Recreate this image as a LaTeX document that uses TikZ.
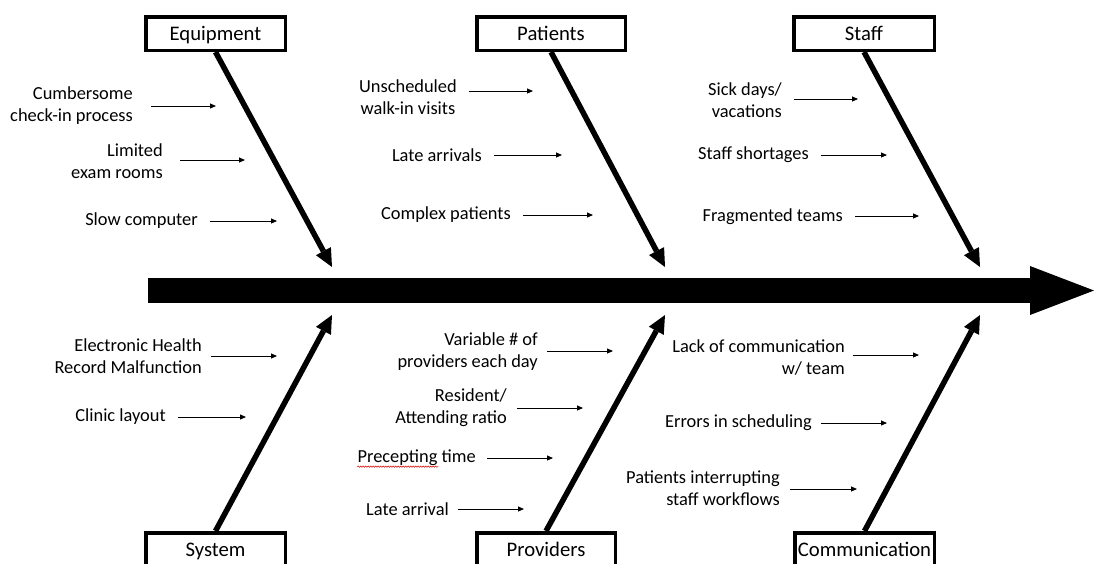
\documentclass[tikz,border=0pt]{standalone}
\usepackage{fontspec}
\setmainfont{Carlito}
\usetikzlibrary{arrows.meta,positioning,decorations.pathmorphing}

\begin{document}
\begin{tikzpicture}[x=1pt,y=-1pt,
		catbox/.style={draw,line width=3.5pt,fill=white,minimum height=33.5pt,inner sep=0pt,text height=13pt,text depth=0pt,font=\fontsize{20.7}{24}\selectfont},
		cause/.style={anchor=east,align=right,inner sep=0pt,font=\fontsize{18.4}{22}\selectfont},
		bone/.style={line width=5.5pt,-{Triangle[length=18pt,width=17pt,line width=0pt]}},
		twig/.style={line width=0.9pt,shorten <=12pt,-{Triangle[length=6pt,width=5pt]}},
		spine/.style={line width=25pt,-{Triangle[length=64pt,width=49pt,line width=0pt]}},
		spell/.style={draw=red!85!black,line width=0.5pt,decorate,decoration={snake,amplitude=0.7pt,segment length=2.5pt}}
		]
		\useasboundingbox (0,0) rectangle (1094,563);
		% main spine
		\coordinate (tail) at (148,290.5);
		\coordinate (head) at (1094,290.5);
		\draw[spine] (tail) -- (head);
		% category boxes
		\node[catbox,minimum width=139.5pt] (equip) at (215.5,33.5) {Equipment};
		\node[catbox,minimum width=148.5pt] (pat) at (551,33.5) {Patients};
		\node[catbox,minimum width=140.5pt] (staff) at (864,33.5) {Staff};
		\node[catbox,minimum width=139.5pt] (sys) at (215.5,549.5) {System};
		\node[catbox,minimum width=138.5pt] (prov) at (546,549.5) {Providers};
		\node[catbox,minimum width=139.5pt] (comm) at (864.5,549.5) {Communication};
		% bones
		\coordinate (te) at (332,267);
		\coordinate (tp) at (665,267);
		\coordinate (ts) at (980,267);
		\coordinate (bs) at (332,315);
		\coordinate (bp) at (665,315);
		\coordinate (bc) at (980,315);
		\draw[bone] (equip.south) -- (te);
		\draw[bone] (pat.south) -- (tp);
		\draw[bone] (staff.south) -- (ts);
		\draw[bone] (sys.north) -- (bs);
		\draw[bone] (prov.north) -- (bp);
		\draw[bone] (comm.north) -- (bc);
		% equipment
		\node[cause] (q1) at (133,106) {Cumbersome\\check-in process};
		\node[cause] (q2) at (163,161) {Limited\\exam rooms};
		\node[cause] (q3) at (198,221) {Slow computer};
		\coordinate (q1x) at (216,106);
		\coordinate (q2x) at (245,160);
		\coordinate (q3x) at (277,221);
		\draw[twig,shorten <=18pt] (q1.east|-q1x) -- (q1x);
		\draw[twig,shorten <=17pt] (q2.east|-q2x) -- (q2x);
		\draw[twig] (q3.east|-q3x) -- (q3x);
		% patients
		\node[cause,align=center] (p1) at (457,97.5) {Unscheduled\\walk-in visits};
		\node[cause] (p2) at (482,155) {Late arrivals};
		\node[cause] (p3) at (511,215) {Complex patients};
		\coordinate (p1x) at (533,91);
		\coordinate (p2x) at (562,155);
		\coordinate (p3x) at (593,215);
		\draw[twig] (p1.east|-p1x) -- (p1x);
		\draw[twig] (p2.east|-p2x) -- (p2x);
		\draw[twig] (p3.east|-p3x) -- (p3x);
		% staff
		\node[cause] (s1) at (782,100) {Sick days/\\vacations};
		\node[cause] (s2) at (809,155) {Staff shortages};
		\node[cause] (s3) at (843,217) {Fragmented teams};
		\coordinate (s1x) at (858,99);
		\coordinate (s2x) at (887,155);
		\coordinate (s3x) at (919,216);
		\draw[twig] (s1.east|-s1x) -- (s1x);
		\draw[twig] (s2.east|-s2x) -- (s2x);
		\draw[twig] (s3.east|-s3x) -- (s3x);
		% system
		\node[cause] (y1) at (202,356.5) {Electronic Health\\Record Malfunction};
		\node[cause] (y2) at (166,417) {Clinic layout};
		\coordinate (y1x) at (277,356);
		\coordinate (y2x) at (246,417);
		\draw[twig,shorten <=9pt] (y1.east|-y1x) -- (y1x);
		\draw[twig] (y2.east|-y2x) -- (y2x);
		% providers
		\node[cause] (v1) at (538,351.5) {Variable \# of\\providers each day};
		\node[cause] (v2) at (507,408) {Resident/\\Attending ratio};
		\node[cause] (v3) at (476,458) {Precepting time};
		\node[cause] (v4) at (449,509) {Late arrival};
		\coordinate (v1x) at (613,351);
		\coordinate (v2x) at (583,408);
		\coordinate (v3x) at (553,458);
		\coordinate (v4x) at (524,509);
		\draw[twig,shorten <=9pt] (v1.east|-v1x) -- (v1x);
		\draw[twig,shorten <=10pt] (v2.east|-v2x) -- (v2x);
		\draw[twig,shorten <=11pt] (v3.east|-v3x) -- (v3x);
		\draw[twig,shorten <=9pt] (v4.east|-v4x) -- (v4x);
		\draw[spell] ([yshift=-0.5pt]v3.south west) -- ++(81,0);
		% communication
		\node[cause] (m1) at (845,357) {Lack of communication\\w/ team};
		\node[cause] (m2) at (812,423) {Errors in scheduling};
		\node[cause] (m3) at (780,488.5) {Patients interrupting\\staff workflows};
		\coordinate (m1x) at (919,355);
		\coordinate (m2x) at (887,423);
		\coordinate (m3x) at (857,489);
		\draw[twig,shorten <=8pt] (m1.east|-m1x) -- (m1x);
		\draw[twig,shorten <=9pt] (m2.east|-m2x) -- (m2x);
		\draw[twig,shorten <=10pt] (m3.east|-m3x) -- (m3x);
	\end{tikzpicture}
\end{document}
